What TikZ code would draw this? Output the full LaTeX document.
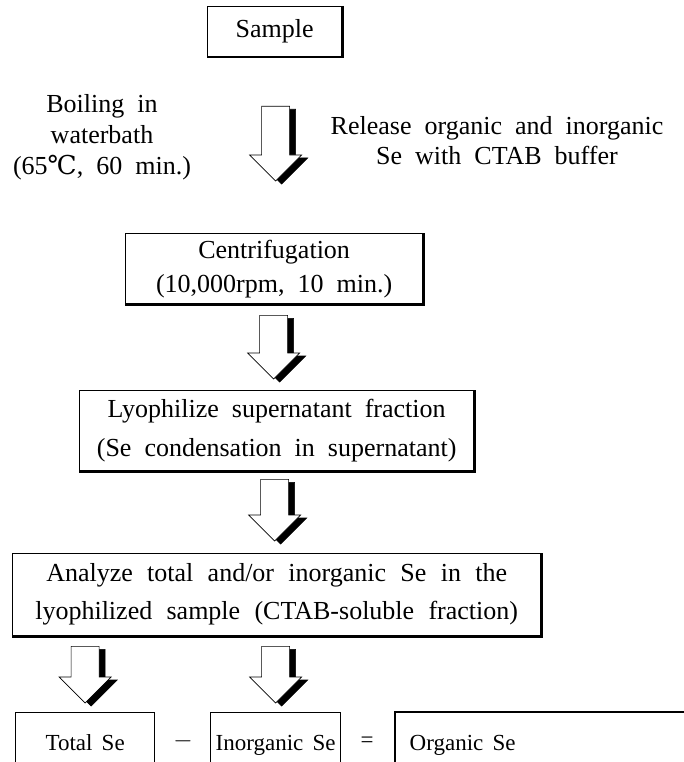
\documentclass[tikz,border=0pt]{standalone}
\usepackage{fontspec}
\setmainfont{Liberation Serif}
\newfontfamily\dvfont{DejaVu Serif}
\usetikzlibrary{calc}

% hollow down arrow with a black drop shadow
\newcommand{\shadearrow}[2]{%
  \foreach \dx/\dy/\col in {6/3/black,0/0/white}{
    \filldraw[fill=\col,draw=black,line width=0.6pt]
      let \p1=(#1), \p2=(#2) in
      (\x1-14pt+\dx pt,\y1-\dy pt) -- (\x1+14pt+\dx pt,\y1-\dy pt)
      -- (\x1+14pt+\dx pt,\y2+26pt-\dy pt) -- (\x1+26pt+\dx pt,\y2+26pt-\dy pt)
      -- (\x1+\dx pt,\y2-\dy pt) -- (\x1-26pt+\dx pt,\y2+26pt-\dy pt)
      -- (\x1-14pt+\dx pt,\y2+26pt-\dy pt) -- cycle;
  }}

\begin{document}
\begin{tikzpicture}[x=1pt,y=-1pt,
  font={\fontsize{26}{31}\selectfont\spaceskip=0.5em\relax},
  box/.style={draw,line width=1.3pt,inner sep=0,anchor=north west,align=center},
  small/.style={font={\fontsize{23}{26}\selectfont\spaceskip=0.4em\relax},
    text height=16pt,text depth=5pt},
  heavy/.style={line width=2.4pt}]
\useasboundingbox (0,0) rectangle (684,762);

\node[box,minimum width=134,minimum height=50] (sample) at (207,6) {Sample};
\node[box,minimum width=297,minimum height=70,
  font={\fontsize{26}{34}\selectfont\spaceskip=0.5em\relax}] (centri) at (125,233)
  {Centrifugation\\(10,000rpm, 10 min.)};
\node[box,minimum width=394,minimum height=80,
  font={\fontsize{26}{39}\selectfont\spaceskip=0.5em\relax}] (lyo) at (79,390)
  {Lyophilize supernatant fraction\\(Se condensation in supernatant)};
\node[box,minimum width=528,minimum height=82,
  font={\fontsize{26}{38}\selectfont\spaceskip=0.55em\relax}] (analyze) at (12,553)
  {Analyze total and/or inorganic Se in the\\lyophilized sample (CTAB-soluble fraction)};
\node[box,small,minimum width=139,minimum height=64] (total) at (15,712) {Total Se};
\node[box,small,minimum width=130,minimum height=64] (inorg) at (210,712) {Inorganic Se};
\node[box,small,draw=none,minimum width=134,minimum height=64] (organic) at (395,712) {Organic Se};
\draw[line width=1.3pt] (organic.south west) -- (organic.north west) -- ++(300,0);

\foreach \n in {sample,centri,lyo,analyze}
  \draw[heavy] (\n.north east) -- (\n.south east) -- (\n.south west);

\node[align=center] (boil) at (102,137) {Boiling in\\waterbath\\(65{\dvfont ℃}, 60 min.)};
\node[align=center,font={\fontsize{26}{30}\selectfont\spaceskip=0.5em\relax}] (release) at (497,141)
  {Release organic and inorganic\\Se with CTAB buffer};
\node[small] (minus) at (183,742) {$-$};
\node[small] (equals) at (367,742) {=};

% arrows between the steps
\path (sample.south) ++(1,49) coordinate (a1top);
\path (a1top |- centri.north) ++(0,-52) coordinate (a1tip);
\path (a1top |- centri.south) ++(-2,11) coordinate (a2top);
\path (a2top |- lyo.north) ++(0,-11) coordinate (a2tip);
\path (a1top |- lyo.south) ++(-1,8) coordinate (a3top);
\path (a3top |- analyze.north) ++(0,-12) coordinate (a3tip);
\path (total.north |- analyze.south) ++(0,10) coordinate (a4top);
\path (total.north) ++(0,-9) coordinate (a4tip);
\path (inorg.north |- analyze.south) ++(0,10) coordinate (a5top);
\path (inorg.north) ++(0,-9) coordinate (a5tip);
\shadearrow{a1top}{a1tip}
\shadearrow{a2top}{a2tip}
\shadearrow{a3top}{a3tip}
\shadearrow{a4top}{a4tip}
\shadearrow{a5top}{a5tip}
\end{tikzpicture}
\end{document}
